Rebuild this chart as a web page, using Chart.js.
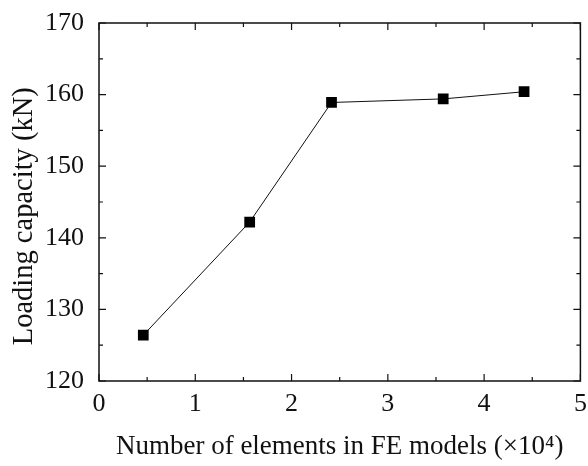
<!DOCTYPE html>
<html>
<head>
<meta charset="utf-8">
<script src="https://cdn.jsdelivr.net/npm/chart.js@4.4.0/dist/chart.umd.min.js"></script>
<style>
  html, body { margin: 0; padding: 0; background: #fff; }
  #wrap { width: 588px; height: 466px; }
</style>
</head>
<body>
<div id="wrap"><canvas id="c" width="588" height="466"></canvas></div>
<script>
// Mesh convergence study: element count vs. predicted loading capacity
const elementCounts = [0.46, 1.565, 2.415, 3.575, 4.415];   // ×10^4 elements
const loadingCapacity = [126.4, 142.2, 158.9, 159.4, 160.4]; // kN
const xTicks = [0, 1, 2, 3, 4, 5];
const yTicks = [120, 130, 140, 150, 160, 170];

const FONT = 'Liberation Serif';
const INK = '#111';

// Frame around the plot with inward major/minor ticks on all four sides
const frameTicks = {
  id: 'frameTicks',
  afterDraw(chart) {
    const { ctx, chartArea: a, scales: { x, y } } = chart;
    ctx.save();
    ctx.strokeStyle = INK;
    ctx.lineWidth = 1.5;
    ctx.strokeRect(a.left, a.top, a.right - a.left, a.bottom - a.top);
    ctx.lineWidth = 1.2;
    ctx.beginPath();
    for (let v = 0; v <= 5.001; v += 0.5) {
      const px = x.getPixelForValue(v);
      const len = Math.abs(v - Math.round(v)) < 1e-6 ? 7 : 4;
      ctx.moveTo(px, a.bottom); ctx.lineTo(px, a.bottom - len);
      ctx.moveTo(px, a.top); ctx.lineTo(px, a.top + len);
    }
    for (let v = 120; v <= 170.001; v += 5) {
      const py = y.getPixelForValue(v);
      const len = v % 10 === 0 ? 7 : 4;
      ctx.moveTo(a.left, py); ctx.lineTo(a.left + len, py);
      ctx.moveTo(a.right, py); ctx.lineTo(a.right - len, py);
    }
    ctx.stroke();
    ctx.restore();
  }
};

new Chart(document.getElementById('c'), {
  type: 'scatter',
  data: {
    datasets: [{
      data: elementCounts.map((v, i) => ({ x: v, y: loadingCapacity[i] })),
      showLine: true,
      borderColor: INK,
      borderWidth: 1,
      backgroundColor: '#000',
      pointStyle: 'rect',
      pointRadius: 7.6,
      pointBorderWidth: 0,
      pointHoverRadius: 7.6
    }]
  },
  options: {
    responsive: false,
    animation: false,
    events: [],
    layout: { padding: { left: 0, right: 7, top: 23, bottom: 0 } },
    plugins: { legend: { display: false }, tooltip: { enabled: false } },
    scales: {
      x: {
        type: 'linear',
        min: 0, max: 5,
        afterBuildTicks: s => { s.ticks = xTicks.map(v => ({ value: v })); },
        afterFit: s => { s.height = 85; },
        grid: { display: false },
        border: { display: false },
        ticks: { color: INK, font: { family: FONT, size: 26 }, padding: 0, maxRotation: 0 },
        title: {
          display: true,
          text: 'Number of elements in FE models (×10⁴)',
          color: INK,
          font: { family: FONT, size: 27 },
          padding: { top: 0, bottom: 3 }
        }
      },
      y: {
        type: 'linear',
        min: 120, max: 170,
        afterBuildTicks: s => { s.ticks = yTicks.map(v => ({ value: v })); },
        afterFit: s => { s.width = 99; },
        grid: { display: false },
        border: { display: false },
        ticks: { color: INK, font: { family: FONT, size: 26 }, padding: 7 },
        title: {
          display: true,
          text: 'Loading capacity (kN)\u00a0\u00a0\u00a0\u00a0',
          color: INK,
          font: { family: FONT, size: 28.5 },
          padding: { top: 7, bottom: 0 }
        }
      }
    }
  },
  plugins: [frameTicks]
});
</script>
</body>
</html>
